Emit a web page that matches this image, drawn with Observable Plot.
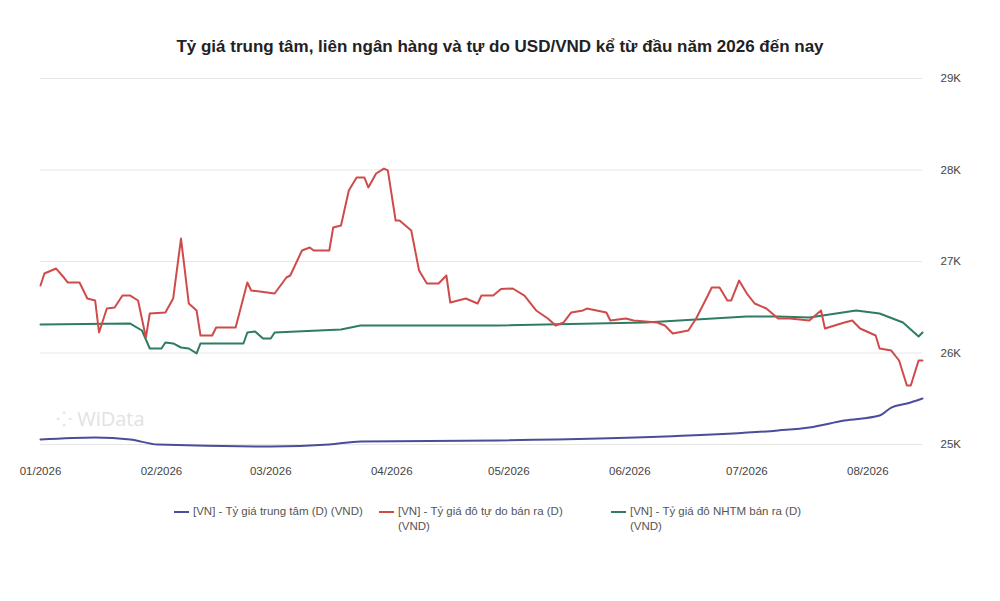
<!DOCTYPE html>
<html><head><meta charset="utf-8">
<script src="https://cdn.jsdelivr.net/npm/d3@7"></script>
<script src="https://cdn.jsdelivr.net/npm/@observablehq/plot@0.6"></script>
<style>
body{margin:0;background:#fff;font-family:"Liberation Sans",Arial,sans-serif;width:1000px;height:601px;overflow:hidden;position:relative}
#title{height:60px;box-sizing:border-box;padding-top:37px;text-align:center;font-weight:bold;font-size:17px;color:#222}
#wm{position:absolute;left:56px;top:405px;font-size:20px;color:#e2e2e2;font-family:"Open Sans",sans-serif}
#legend{position:absolute;top:504px;left:0;width:1000px;font-size:11.5px;color:#555}
.it{position:absolute;display:flex;align-items:flex-start;line-height:15px}
.sw{width:15px;height:2px;margin-top:7px;margin-right:4px;flex:none}
</style></head><body>
<div id="title">Tỷ giá trung tâm, liên ngân hàng và tự do USD/VND kể từ đầu năm 2026 đến nay</div>
<div id="chart"></div>
<div id="wm">⁘ WiData</div>
<div id="legend">
<div class="it" style="left:174px;width:210px"><div class="sw" style="background:#4b4d9c"></div><div>[VN] - Tỷ giá trung tâm (D) (VND)</div></div>
<div class="it" style="left:379px;width:230px"><div class="sw" style="background:#cf4b4b"></div><div>[VN] - Tỷ giá đô tự do bán ra (D)<br>(VND)</div></div>
<div class="it" style="left:611px;width:230px"><div class="sw" style="background:#2e7d62"></div><div>[VN] - Tỷ giá đô NHTM bán ra (D)<br>(VND)</div></div>
</div>
<script>
const redDays=[0,1,4,6,7,10,12,14,15,17,19,21,23,25,27,28,32,34,36,38,40,41,44,45,50,53,54,60,63,64,67,69,70,74,75,77,79,81,83,84,86,88,89,91,92,95,97,99,102,104,105,109,112,113,116,118,121,124,127,130,132,134,136,139,140,145,146,150,152,158,160,162,166,168,171,172,174,176,177,179,181,183,186,189,192,197,200,201,206,208,210,214,215,218,220,222,223,225,226];
const redVals=[26738,26869,26923,26825,26770,26770,26596,26574,26224,26486,26497,26628,26628,26574,26169,26432,26443,26596,27251,26541,26464,26191,26191,26279,26279,26770,26683,26650,26825,26847,27120,27153,27120,27120,27372,27393,27776,27918,27918,27809,27962,28016,27995,27448,27448,27339,26902,26760,26760,26847,26552,26596,26541,26628,26628,26700,26705,26628,26465,26377,26300,26333,26443,26465,26486,26443,26355,26377,26355,26333,26300,26213,26246,26377,26628,26716,26716,26574,26574,26792,26650,26541,26486,26377,26377,26355,26465,26268,26333,26355,26268,26191,26049,26027,25918,25645,25645,25918,25918];
const greenDays=[0,23,26,28,31,32,34,36,38,40,41,52,53,55,57,59,60,77,82,117,155,181,189,197,209,215,221,225,226];
const greenVals=[26311,26322,26246,26049,26049,26115,26104,26060,26049,25995,26104,26104,26224,26235,26158,26158,26224,26257,26300,26300,26333,26399,26399,26388,26465,26432,26333,26180,26224];
const blueDays=[0,14,23,30,59,74,82,117,160,189,197,206,215,218,222,226];
const blueVals=[25055,25077,25055,25000,24978,25000,25033,25044,25087,25153,25186,25262,25317,25404,25448,25503];
const yTicks=[25000,26000,27000,28000,29000];
const monthTicks=["2026-01-01","2026-02-01","2026-03-01","2026-04-01","2026-05-01","2026-06-01","2026-07-01","2026-08-01"];
const start=new Date(2026,0,1);
const toRows=(days,vals)=>days.map((d,i)=>({date:d3.timeDay.offset(start,d),v:vals[i]}));
const red=toRows(redDays,redVals),green=toRows(greenDays,greenVals),blue=toRows(blueDays,blueVals);
const chart=Plot.plot({
  width:1000,height:430,marginLeft:40,marginRight:78,marginTop:18,marginBottom:46,
  style:{fontFamily:"Liberation Sans, Arial, sans-serif",fontSize:"11.5px",color:"#444"},
  x:{type:"time",domain:[start,d3.timeDay.offset(start,226)],ticks:monthTicks.map(s=>new Date(s+"T00:00")),tickFormat:d3.timeFormat("%m/%Y"),tickSize:0,tickPadding:22,label:null},
  y:{domain:[25000,29000],ticks:yTicks,tickFormat:d=>d/1000+"K",axis:"right",tickSize:0,tickPadding:18,label:null},
  marks:[
    Plot.gridY(yTicks,{stroke:"#e6e6e6",strokeOpacity:1}),
    Plot.line(blue,{x:"date",y:"v",stroke:"#4b4d9c",strokeWidth:2,curve:"monotone-x"}),
    Plot.line(green,{x:"date",y:"v",stroke:"#2e7d62",strokeWidth:2}),
    Plot.line(red,{x:"date",y:"v",stroke:"#cf4b4b",strokeWidth:2})
  ]
});
document.getElementById("chart").appendChild(chart);
</script></body></html>
